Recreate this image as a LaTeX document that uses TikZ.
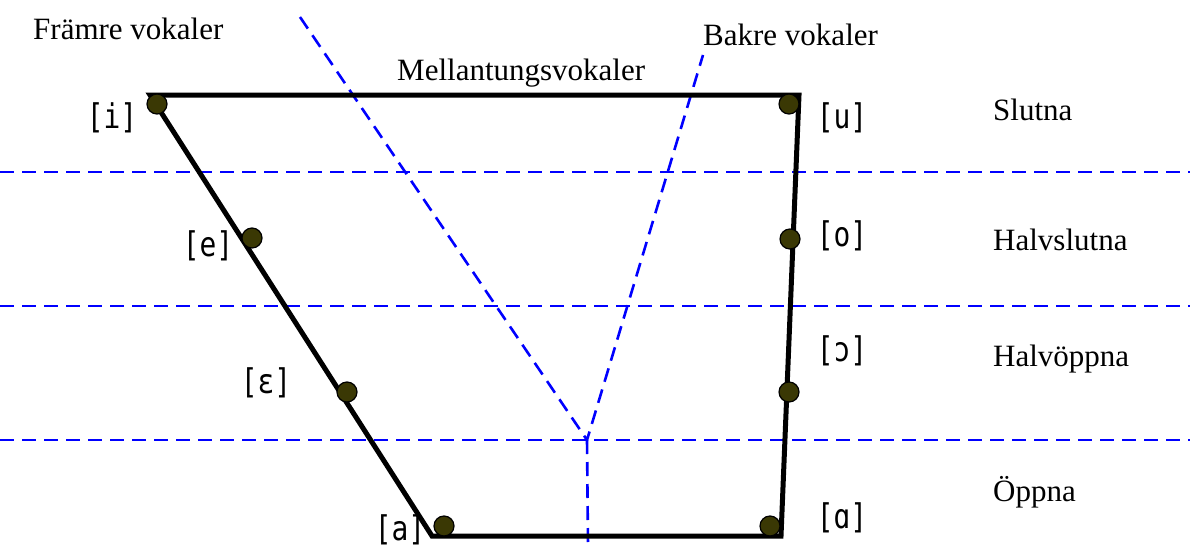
\documentclass[tikz,border=0pt]{standalone}
\usepackage{fontspec}
\setmainfont{Liberation Serif}
\newfontfamily\ipafont[FakeStretch=0.82]{DejaVu Sans Mono}
\definecolor{dotfill}{RGB}{58,56,4}
\begin{document}
\begin{tikzpicture}[x=1pt,y=-1pt,
  frame/.style={line width=5pt, line join=miter},
  guide/.style={blue, dash pattern=on 14pt off 8pt, line width=2.6pt},
  vdot/.style={circle, fill=dotfill, draw=black, line width=1.2pt, minimum size=20pt, inner sep=0pt},
  ipa/.style={inner sep=0pt, font=\ipafont\fontsize{34}{38}\selectfont},
  lab/.style={inner sep=0pt, anchor=base west, font=\fontsize{31}{36}\selectfont}]
\useasboundingbox (0,0) rectangle (1190,546);
% guide lines
\coordinate (hl1) at (0,172);   \coordinate (hr1) at (1190,172);
\coordinate (hl2) at (0,306);   \coordinate (hr2) at (1190,306);
\coordinate (hl3) at (0,440);   \coordinate (hr3) at (1190,440);
\coordinate (meet) at (587,440);
\coordinate (ftop) at (300,17);
\coordinate (btop) at (703,55);
\coordinate (vbot) at (588,546);
\draw[guide] (hl1) -- (hr1);
\draw[guide] (hl2) -- (hr2);
\draw[guide] (hl3) -- (hr3);
\draw[guide] (ftop) -- (meet) -- (btop);
\draw[guide] (meet) -- (vbot);
% trapezium
\coordinate (tl) at (150,95);
\coordinate (tr) at (799,95);
\coordinate (br) at (781,536);
\coordinate (bl) at (432,536);
\draw[frame] (tl) -- (tr) -- (br) -- (bl) -- cycle;
% vowel dots
\node[vdot] (di) at (157,104) {};
\node[vdot] (du) at (789,104) {};
\node[vdot] (de) at (252,238) {};
\node[vdot] (do) at (790,239) {};
\node[vdot] (deps) at (347,392) {};
\node[vdot] (dopen) at (789,392) {};
\node[vdot] (da) at (444,526) {};
\node[vdot] (dalpha) at (770,526) {};
% vowel labels
\node[ipa] (li) at (112,118) {[i]};
\node[ipa] (lu) at (842,118) {[u]};
\node[ipa] (le) at (208,246) {[e]};
\node[ipa] (lo) at (842,236) {[o]};
\node[ipa] (leps) at (266,383) {[ɛ]};
\node[ipa] (lopen) at (842,351) {[ɔ]};
\node[ipa] (la) at (400,530) {[a]};
\node[ipa] (lalpha) at (842,518) {[ɑ]};
% category labels
\node[lab] (slutna) at (993,120) {Slutna};
\node[lab] (halvslutna) at (993,250) {Halvslutna};
\node[lab] (halvoppna) at (993,366) {Halvöppna};
\node[lab] (oppna) at (993,501) {Öppna};
\node[lab] (framre) at (33,39) {Främre vokaler};
\node[lab] (mellan) at (397,80) {Mellantungsvokaler};
\node[lab] (bakre) at (703,45) {Bakre vokaler};
\end{tikzpicture}
\end{document}
